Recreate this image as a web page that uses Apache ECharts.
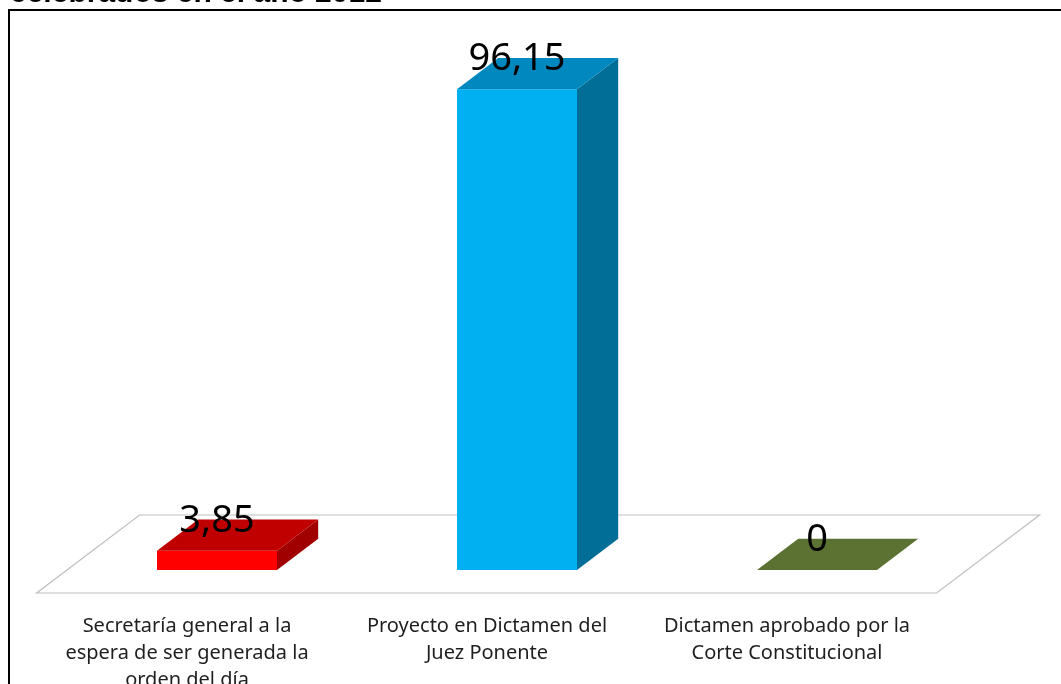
<!DOCTYPE html>
<html>
<head>
<meta charset="utf-8">
<script src="https://cdn.jsdelivr.net/npm/echarts@6/dist/echarts.min.js"></script>
<style>
html,body{margin:0;padding:0;background:#fff;overflow:hidden;}
#chart{width:1061px;height:684px;}
</style>
</head>
<body>
<div id="chart"></div>
<script>
// ---- data ----
const categories = [
  'Secretaría general a la\nespera de ser generada la\norden del día',
  'Proyecto en Dictamen del\nJuez Ponente',
  'Dictamen aprobado por la\nCorte Constitucional'
];
const values = [3.85, 96.15, 0];
const titleText = 'celebrados en el año 2012';

// ---- styles ----
const faceColors = [
  {front: '#ff0000', top: '#c00000', side: '#a00000'},
  {front: '#00b0f0', top: '#0088bf', side: '#006e96'},
  {front: '#76923c', top: '#5b7232', side: '#4f6228'}
];
const DEPTH_X = 103, DEPTH_Y = -78;   // full floor depth vector (px)
const FLOOR_FRONT = -0.295, FLOOR_BACK = 0.705;
const BAR_DEPTH = 0.4;

const chart = echarts.init(document.getElementById('chart'), null, {renderer: 'canvas', width: 1061, height: 684});

function fmt(v){ return String(v).replace('.', ','); }

function renderFloor(params, api){
  const cs = params.coordSys;
  const y0 = api.coord([0, 0])[1];
  const xl = cs.x, xr = cs.x + cs.width;
  const fx = DEPTH_X*FLOOR_FRONT, fy = DEPTH_Y*FLOOR_FRONT;
  const bx = DEPTH_X*FLOOR_BACK, by = DEPTH_Y*FLOOR_BACK;
  return {
    type: 'polygon',
    shape: {points: [[xl+fx, y0+fy],[xr+fx, y0+fy],[xr+bx, y0+by],[xl+bx, y0+by]]},
    style: {fill: '#ffffff', stroke: '#bfbfbf', lineWidth: 1.2}
  };
}

function renderBar(params, api){
  const i = api.value(0), v = api.value(1);
  const base = api.coord([i, 0]);
  const top = api.coord([i, v]);
  const w = api.size([1, 0])[0]*0.4;
  const x0 = base[0]-w/2, x1 = base[0]+w/2;
  const yb = base[1], yt = top[1];
  const dx = DEPTH_X*BAR_DEPTH, dy = DEPTH_Y*BAR_DEPTH;
  const c = faceColors[i];
  const children = [];
  if (yb - yt > 0.5) {
    children.push({type: 'rect', shape: {x: x0, y: yt, width: w, height: yb-yt}, style: {fill: c.front}});
    children.push({type: 'polygon', shape: {points: [[x1,yb],[x1+dx,yb+dy],[x1+dx,yt+dy],[x1,yt]]}, style: {fill: c.side}});
  }
  children.push({type: 'polygon', shape: {points: [[x0,yt],[x1,yt],[x1+dx,yt+dy],[x0+dx,yt+dy]]}, style: {fill: c.top}});
  children.push({type: 'text', x: base[0], y: yt-30, z2: 10, style: {
    text: fmt(v), fill: '#000', font: '38px "Noto Sans"', align: 'center', verticalAlign: 'middle'
  }});
  return {type: 'group', children: children};
}

chart.setOption({
  animation: false,
  backgroundColor: '#ffffff',
  grid: {left: 67, width: 900, top: 70, height: 500, containLabel: false, outerBoundsMode: 'none'},
  xAxis: {
    type: 'category', data: categories,
    axisLine: {show: false}, axisTick: {show: false}, splitLine: {show: false},
    axisLabel: {
      interval: 0, margin: 43, color: '#1f1f1f',
      fontFamily: 'Noto Sans', fontSize: 20, lineHeight: 27,
      padding: [0, 60, 0, 0]
    }
  },
  yAxis: {type: 'value', min: 0, max: 100, show: false},
  series: [
    {type: 'custom', renderItem: renderFloor, data: [[0, 0]], z: 1, silent: true},
    {type: 'custom', renderItem: renderBar, data: values.map((v, i) => [i, v]), z: 2,
     encode: {x: 0, y: 1}}
  ],
  graphic: [
    {type: 'rect', shape: {x: 9, y: 10, width: 1200, height: 800}, style: {fill: 'none', stroke: '#000', lineWidth: 2}, z: 100},
    {type: 'text', x: 10, y: 9, style: {text: titleText, font: 'bold 30px "Liberation Sans"', fill: '#000', verticalAlign: 'bottom'}}
  ]
});
</script>
</body>
</html>
